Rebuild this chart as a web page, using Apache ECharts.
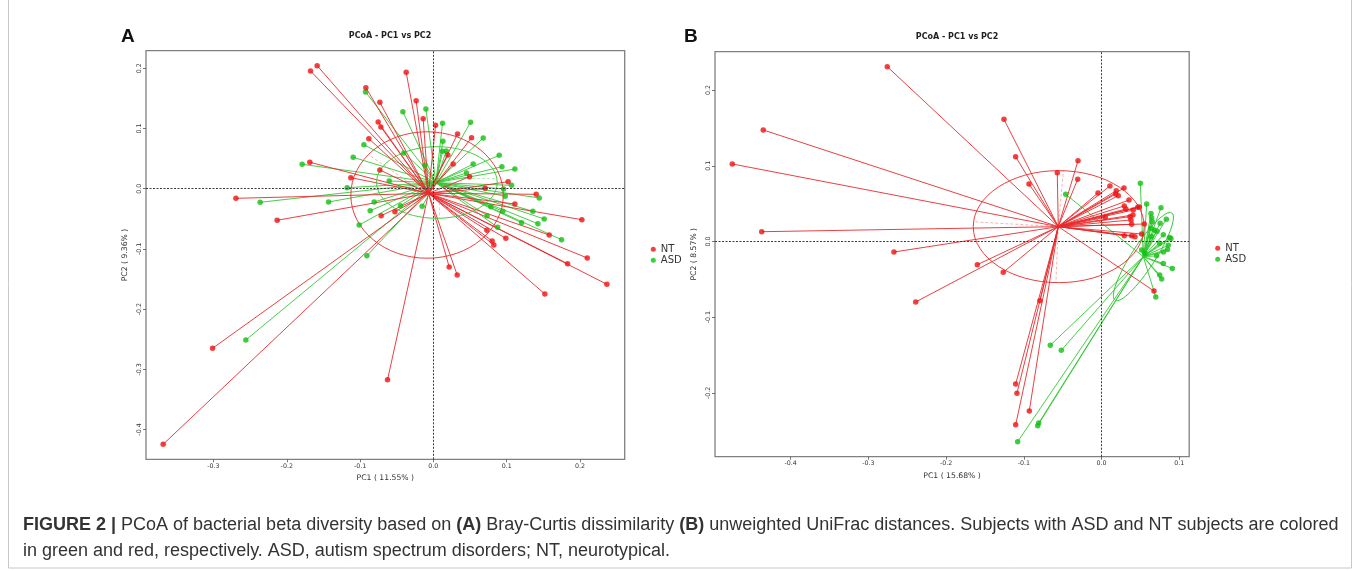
<!DOCTYPE html>
<html>
<head>
<meta charset="utf-8">
<title>PCoA - PC1 vs PC2</title>
<script src="https://cdn.jsdelivr.net/npm/echarts@6/dist/echarts.min.js"></script>
<style>
  html, body { margin: 0; padding: 0; background: #fff; }
  #chart { width: 1360px; height: 571px; }
</style>
</head>
<body>
<div id="chart"></div>
<script>
// ---- panel A : Bray-Curtis ----
var ntA = [
  [-0.1585, 0.2043], [-0.1676, 0.1955], [-0.0371, 0.1933], [-0.0921, 0.1678], [-0.0235, 0.1462],
  [-0.0730, 0.1435], [-0.0139, 0.1163], [-0.0753, 0.1108], [-0.0716, 0.1025], [0.0030, 0.1053],
  [-0.0880, 0.0831], [0.0330, 0.0909], [0.0521, 0.0847], [0.0198, 0.0560], [-0.1685, 0.0439],
  [-0.0730, 0.0311], [0.0270, 0.0410], [0.0494, 0.0199], [-0.1126, 0.0183], [0.1020, 0.0116],
  [0.0707, 0.0006], [-0.2694, -0.0160], [0.1403, -0.0093], [0.1112, -0.0254], [-0.0525, -0.0382],
  [-0.0712, -0.0448], [-0.2131, -0.0525], [0.2026, -0.0515], [0.0730, -0.0690], [0.1580, -0.0769],
  [0.0989, -0.0824], [0.0802, -0.0869], [0.0825, -0.0935], [0.2099, -0.1151], [0.1831, -0.1246],
  [0.0216, -0.1300], [0.0325, -0.1434], [0.2367, -0.1588], [0.1521, -0.1749], [-0.3012, -0.2651],
  [-0.0625, -0.3173], [-0.3686, -0.4246]
];
var asdA = [
  [-0.0925, 0.1606], [-0.0416, 0.1279], [-0.0102, 0.1324], [0.0125, 0.1086], [0.0507, 0.1103],
  [0.0680, 0.0842], [0.0130, 0.0787], [0.0125, 0.0621], [0.0175, 0.0626], [-0.0948, 0.0731],
  [-0.1094, 0.0521], [-0.0402, 0.0593], [-0.1790, 0.0405], [-0.0116, 0.0389], [0.0898, 0.0555],
  [0.0543, 0.0410], [0.0935, 0.0366], [0.1112, 0.0327], [0.0453, 0.0261], [-0.0603, 0.0128],
  [-0.1176, 0.0017], [0.1067, 0.0056], [0.0958, -0.0005], [0.0980, -0.0126], [0.1444, -0.0154],
  [-0.2363, -0.0226], [-0.1430, -0.0221], [-0.0808, -0.0221], [-0.0862, -0.0365], [-0.0448, -0.0282],
  [-0.0153, -0.0292], [0.0784, -0.0299], [0.0948, -0.0375], [0.1357, -0.0375], [0.0734, -0.0448],
  [0.1512, -0.0503], [0.1203, -0.0564], [0.1426, -0.0581], [0.0876, -0.0641], [-0.1012, -0.0603],
  [0.1749, -0.0847], [-0.0907, -0.1113], [-0.2558, -0.2513]
];
var centerNtA = [-0.0066, -0.0077];
var centerAsdA = [0.0034, 0.0100];
// ellipse: cx, cy, semi axis a, semi axis b, angle (deg)
var ellipseNtA = [-0.0086, -0.0105, 0.104, 0.105, 0];
var ellipseAsdA = [0.0048, 0.0103, 0.0823, 0.0595, 0];
var dashNtA = [[[-0.0086, -0.0105], [-0.088, 0.056]]];
var dashAsdA = [[[0.0085, 0.0103], [0.0085, -0.049]], [[0.0048, 0.0166], [0.087, 0.0166]]];
var rangeXA = [-0.392, 0.261];
var rangeYA = [-0.4495, 0.2292];
var ticksXA = [-0.3, -0.2, -0.1, 0, 0.1, 0.2];
var ticksYA = [-0.4, -0.3, -0.2, -0.1, 0, 0.1, 0.2];

// ---- panel B : unweighted UniFrac ----
var ntB = [
  [-0.2757, 0.2309], [-0.4353, 0.1473], [-0.4752, 0.1024], [-0.4373, 0.0129], [-0.2671, -0.0139],
  [-0.1598, -0.0306], [-0.1264, -0.0407], [-0.2391, -0.0799], [-0.0792, -0.0782], [-0.1104, -0.1882],
  [-0.1088, -0.2005], [-0.0929, -0.2239], [-0.1104, -0.2420], [0.0676, -0.0654], [-0.1255, 0.1614],
  [-0.1105, 0.1120], [-0.0302, 0.1067], [-0.0306, 0.0822], [-0.0933, 0.0760], [-0.0569, 0.0909],
  [-0.0045, 0.0641], [0.0109, 0.0733], [0.0290, 0.0707], [0.0190, 0.0671], [0.0216, 0.0605],
  [0.0183, 0.0627], [0.0354, 0.0548], [0.0293, 0.0469], [0.0315, 0.0429], [0.0409, 0.0416],
  [0.0466, 0.0452], [0.0487, 0.0456], [0.0049, 0.0320], [0.0367, 0.0328], [0.0405, 0.0350],
  [0.0388, 0.0227], [0.0551, 0.0231], [0.0380, 0.0284], [0.0293, 0.0077], [0.0388, 0.0077],
  [0.0431, 0.0063], [0.0517, 0.0099]
];
var asdB = [
  [0.0500, 0.0769], [-0.0461, 0.0623], [0.0582, 0.0495], [0.0766, 0.0447], [0.0637, 0.0370],
  [0.0646, 0.0315], [0.0654, 0.0262], [0.0835, 0.0295], [0.0755, 0.0242], [0.0637, 0.0174],
  [0.0680, 0.0152], [0.0714, 0.0136], [0.0796, 0.0088], [0.0876, 0.0052], [0.0894, 0.0040],
  [0.0640, 0.0066], [0.0748, -0.0024], [0.0860, -0.0050], [0.0850, -0.0105], [0.0798, -0.0140],
  [0.0710, -0.0190], [0.0517, -0.0112], [0.0560, -0.0156], [0.0796, -0.0290], [0.0912, -0.0357],
  [0.0750, -0.0443], [0.0775, -0.0497], [0.0699, -0.0733], [-0.0659, -0.1371], [-0.0517, -0.1437],
  [-0.0808, -0.2398], [-0.0821, -0.2433], [-0.1079, -0.2645]
];
var centerNtB = [-0.0556, 0.0196];
var centerAsdB = [0.0538, -0.0200];
var ellipseNtB = [-0.055, 0.0196, 0.110, 0.074, 0];
var ellipseAsdB = [0.054, -0.020, 0.067, 0.0155, 57];
var dashNtB = [
  [[-0.0556, 0.0196], [-0.165, 0.026]],
  [[-0.0556, 0.0196], [-0.049, 0.0935]],
  [[-0.0556, 0.0196], [-0.0586, -0.0544]]
];
var dashAsdB = [];
var rangeXB = [-0.4974, 0.1129];
var rangeYB = [-0.2843, 0.2507];
var ticksXB = [-0.4, -0.3, -0.2, -0.1, 0, 0.1];
var ticksYB = [-0.2, -0.1, 0, 0.1, 0.2];

var groupNames = ['NT', 'ASD'];
var axisNames = {
  xA: 'PC1 ( 11.55% )', yA: 'PC2 ( 9.36% )',
  xB: 'PC1 ( 15.68% )', yB: 'PC2 ( 8.57% )'
};
var plotTitle = 'PCoA - PC1 vs PC2';
var captionLine1 = '{b|FIGURE 2 |} PCoA of bacterial beta diversity based on {b|(A)} Bray-Curtis dissimilarity {b|(B)} unweighted UniFrac distances. Subjects with ASD and NT subjects are colored';
var captionLine2 = 'in green and red, respectively. ASD, autism spectrum disorders; NT, neurotypical.';

var RED = '#f01010';
var GREEN = '#10c010';
var LINE_RED = '#e62a2c';
var LINE_GREEN = '#34c634';
var CAPTION_SIZE = 18;

var chart = echarts.init(document.getElementById('chart'));

function fmt(v) {
  return v.toFixed(1);
}

function spokes(points, c) {
  return points.map(function (p) {
    return { coords: [p, c] };
  });
}

function dashes(segs) {
  return segs.map(function (s) {
    return { coords: s };
  });
}

function ellipseItem(params, api) {
  var c = api.coord([api.value(0), api.value(1)]);
  var s = api.size([api.value(2), api.value(3)]);
  return {
    type: 'ellipse',
    x: c[0],
    y: c[1],
    rotation: api.value(4) * Math.PI / 180,
    shape: { cx: 0, cy: 0, rx: s[0], ry: s[1] },
    style: { fill: null, stroke: api.visual('color'), lineWidth: 0.9 }
  };
}

function xAxisOf(idx, range, ticks, name) {
  return {
    gridIndex: idx, type: 'value', min: range[0], max: range[1],
    name: name, nameLocation: 'middle', nameGap: 13,
    nameTextStyle: { fontFamily: 'DejaVu Sans', fontSize: 7.7, color: '#333' },
    axisLine: { show: false, onZero: false },
    splitLine: { show: false },
    axisTick: { show: true, length: 3, customValues: ticks, lineStyle: { color: '#555', width: 0.8 } },
    axisLabel: { customValues: ticks, formatter: fmt, fontFamily: 'DejaVu Sans', fontSize: 6.3, color: '#333', margin: 4 }
  };
}

function yAxisOf(idx, range, ticks, name) {
  return {
    gridIndex: idx, type: 'value', min: range[0], max: range[1],
    name: name, nameLocation: 'middle', nameGap: 17, nameRotate: 90,
    nameTextStyle: { fontFamily: 'DejaVu Sans', fontSize: 7.7, color: '#333' },
    axisLine: { show: false, onZero: false },
    splitLine: { show: false },
    axisTick: { show: true, length: 3, customValues: ticks, lineStyle: { color: '#555', width: 0.8 } },
    axisLabel: { customValues: ticks, formatter: fmt, rotate: 90, fontFamily: 'DejaVu Sans', fontSize: 6.3, color: '#333', margin: 4 }
  };
}

function panelSeries(idx, nt, asd, cNt, cAsd, eNt, eAsd, dNt, dAsd) {
  var lineBase = { type: 'lines', coordinateSystem: 'cartesian2d', xAxisIndex: idx, yAxisIndex: idx, silent: true, z: 2 };
  return [
    Object.assign({}, lineBase, { data: spokes(asd, cAsd), lineStyle: { color: LINE_GREEN, width: 0.9, opacity: 1 } }),
    Object.assign({}, lineBase, { data: spokes(nt, cNt), lineStyle: { color: LINE_RED, width: 0.9, opacity: 1 } }),
    Object.assign({}, lineBase, { data: dashes(dAsd), lineStyle: { color: LINE_GREEN, width: 0.7, type: [3, 2] } }),
    Object.assign({}, lineBase, { data: dashes(dNt), lineStyle: { color: LINE_RED, width: 0.7, type: [3, 2] } }),
    {
      type: 'custom', xAxisIndex: idx, yAxisIndex: idx, silent: true, z: 2,
      renderItem: ellipseItem, itemStyle: { color: LINE_GREEN }, data: [eAsd]
    },
    {
      type: 'custom', xAxisIndex: idx, yAxisIndex: idx, silent: true, z: 2,
      renderItem: ellipseItem, itemStyle: { color: LINE_RED }, data: [eNt]
    },
    {
      name: groupNames[1], type: 'scatter', xAxisIndex: idx, yAxisIndex: idx, z: 3,
      symbol: 'circle', symbolSize: 5.5, itemStyle: { color: GREEN }, data: asd
    },
    {
      name: groupNames[0], type: 'scatter', xAxisIndex: idx, yAxisIndex: idx, z: 4,
      symbol: 'circle', symbolSize: 5.5, itemStyle: { color: RED }, data: nt,
      markLine: {
        silent: true, symbol: 'none', label: { show: false },
        lineStyle: { color: '#3a3a3a', type: [2, 1.5], width: 1 },
        data: [{ xAxis: 0 }, { yAxis: 0 }]
      }
    }
  ];
}

var legendText = { fontFamily: 'DejaVu Sans', fontSize: 10, color: '#333', lineHeight: 11 };

chart.setOption({
  animation: false,
  backgroundColor: '#fff',
  title: [
    { text: plotTitle, left: 385, top: 27, textAlign: 'center', textStyle: { fontFamily: 'DejaVu Sans', fontWeight: 'bold', fontSize: 8, color: '#222' } },
    { text: plotTitle, left: 952, top: 28, textAlign: 'center', textStyle: { fontFamily: 'DejaVu Sans', fontWeight: 'bold', fontSize: 8, color: '#222' } }
  ],
  legend: [
    {
      data: groupNames, orient: 'vertical', left: 650.8, top: 243.8, itemGap: 0, padding: 0,
      itemWidth: 5, itemHeight: 5, icon: 'circle', textStyle: legendText, selectedMode: false
    },
    {
      data: groupNames, orient: 'vertical', left: 1215.2, top: 242.8, itemGap: 0, padding: 0,
      itemWidth: 5, itemHeight: 5, icon: 'circle', textStyle: legendText, selectedMode: false
    }
  ],
  grid: [
    { left: 146, top: 50.7, width: 478.7, height: 408.6, show: true, borderColor: '#808080', borderWidth: 1.3, backgroundColor: 'transparent' },
    { left: 715, top: 51.7, width: 474.2, height: 405, show: true, borderColor: '#808080', borderWidth: 1.3, backgroundColor: 'transparent' }
  ],
  xAxis: [
    xAxisOf(0, rangeXA, ticksXA, axisNames.xA),
    xAxisOf(1, rangeXB, ticksXB, axisNames.xB)
  ],
  yAxis: [
    yAxisOf(0, rangeYA, ticksYA, axisNames.yA),
    yAxisOf(1, rangeYB, ticksYB, axisNames.yB)
  ],
  series: panelSeries(0, ntA, asdA, centerNtA, centerAsdA, ellipseNtA, ellipseAsdA, dashNtA, dashAsdA)
    .concat(panelSeries(1, ntB, asdB, centerNtB, centerAsdB, ellipseNtB, ellipseAsdB, dashNtB, dashAsdB)),
  graphic: [
    {
      type: 'rect', silent: true, z: 0,
      shape: { x: 8.5, y: -2, width: 1343, height: 570 },
      style: { fill: null, stroke: '#c8c8c8', lineWidth: 1 }
    },
    {
      type: 'text', left: 121, top: 27,
      style: { text: 'A', font: 'bold 19px "Liberation Sans"', fill: '#111' }
    },
    {
      type: 'text', left: 684, top: 27,
      style: { text: 'B', font: 'bold 19px "Liberation Sans"', fill: '#111' }
    },
    {
      type: 'text', x: 23, y: 525,
      style: {
        text: captionLine1, fontFamily: 'Liberation Sans', fontSize: CAPTION_SIZE, fill: '#333',
        verticalAlign: 'middle', rich: { b: { fontWeight: 'bold', fontFamily: 'Liberation Sans', fontSize: CAPTION_SIZE, fill: '#333' } }
      }
    },
    {
      type: 'text', x: 23, y: 551,
      style: { text: captionLine2, fontFamily: 'Liberation Sans', fontSize: CAPTION_SIZE, fill: '#333', verticalAlign: 'middle' }
    }
  ]
});
</script>
</body>
</html>
